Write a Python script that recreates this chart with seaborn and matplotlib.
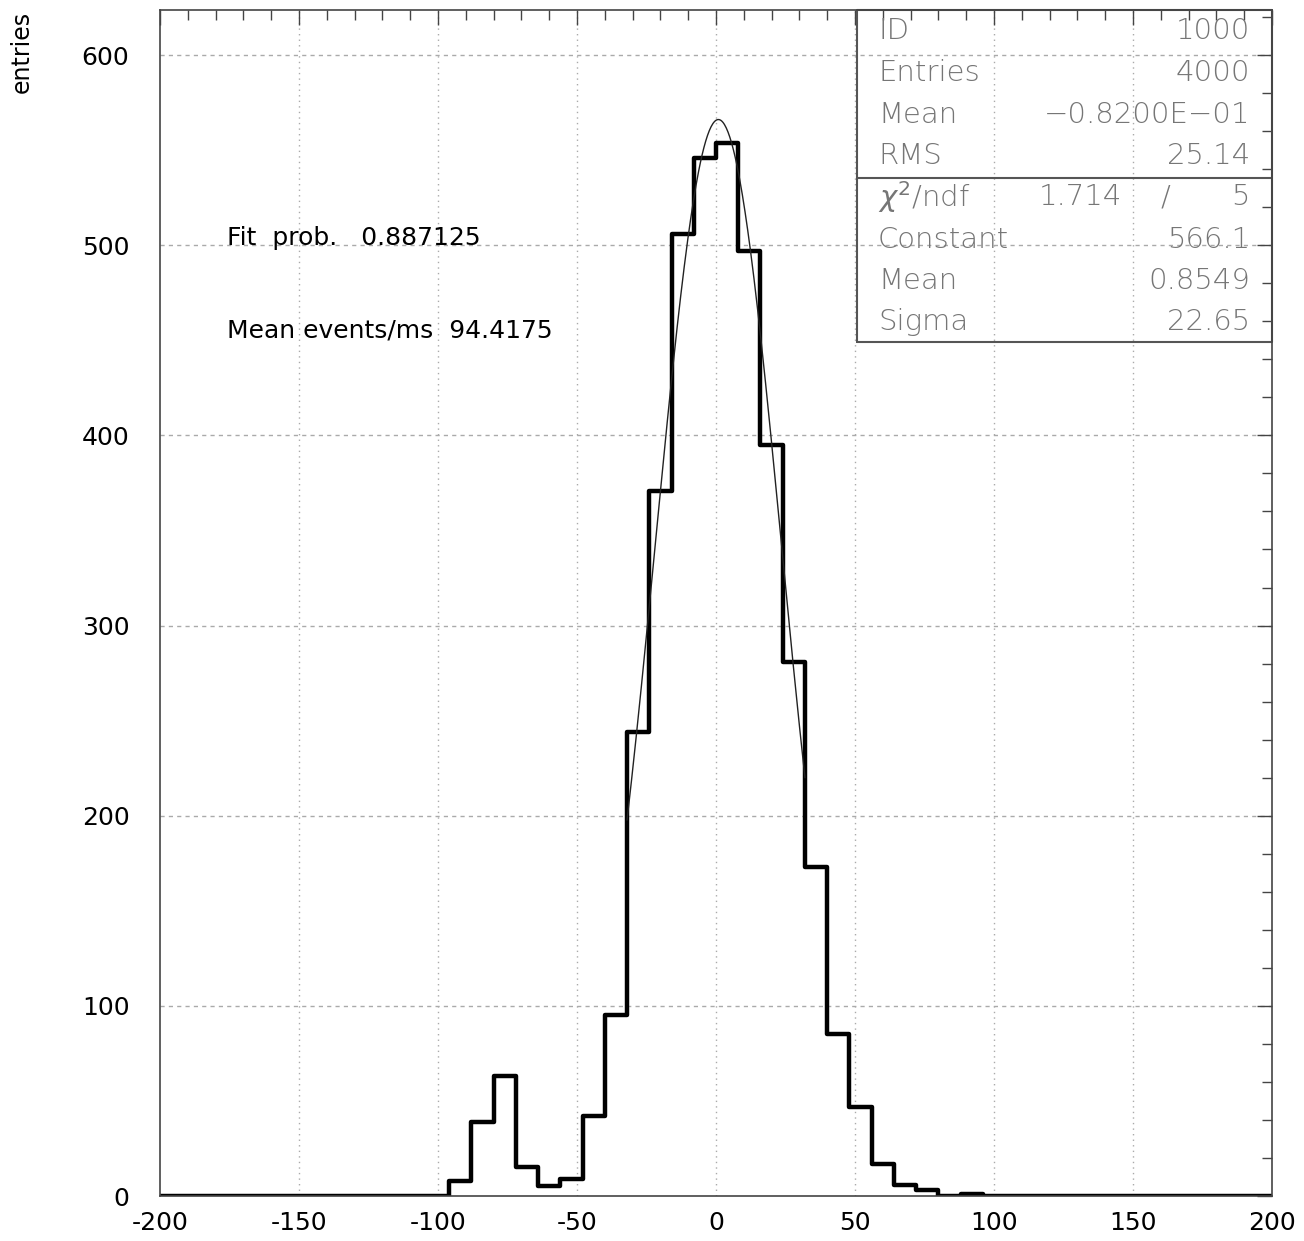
import numpy as np
import pandas as pd
import matplotlib
matplotlib.use("Agg")
import matplotlib.pyplot as plt
from matplotlib.ticker import MultipleLocator
import seaborn as sns

# ---- data ----
bin_edges = list(range(-200, 201, 8))           # 50 bins of width 8
nonzero_start = -96
nonzero_counts = [8, 39, 63, 15, 5, 9, 42, 95, 244, 371, 506, 546, 554,
                  497, 395, 281, 173, 85, 47, 17, 6, 3, 0, 1]

fit_constant = 566.1
fit_mean = 0.8549
fit_sigma = 22.65
fit_range = (-32.0, 32.0)

stat_labels = ["ID", "Entries", "Mean", "RMS"]
stat_values = ["1000", "4000", "\u22120.8200E\u221201", "25.14"]
fit_labels = ["Constant", "Mean", "Sigma"]
fit_values = ["566.1", "0.8549", "22.65"]
chi2_text = ("1.714", "5")

note_lines = ["Fit  prob.   0.887125", "Mean events/ms  94.4175"]

x_ticks = [-200, -150, -100, -50, 0, 50, 100, 150, 200]
y_ticks = [0, 100, 200, 300, 400, 500, 600]

# build full-range counts
centers = [e + 4 for e in bin_edges[:-1]]
counts = [0] * len(centers)
i0 = bin_edges.index(nonzero_start)
for k, c in enumerate(nonzero_counts):
    counts[i0 + k] = c
df = pd.DataFrame({"x": centers, "w": counts})

# ---- figure ----
sns.set_style("white")
plt.rcParams["font.family"] = ["DejaVu Sans"]
plt.rcParams["text.color"] = "black"
plt.rcParams["xtick.color"] = "black"
plt.rcParams["ytick.color"] = "black"
plt.rcParams["xtick.labelcolor"] = "black"
plt.rcParams["ytick.labelcolor"] = "black"

fig = plt.figure(figsize=(13.04, 12.41), dpi=100)
ax = fig.add_axes([160 / 1304, 45 / 1241, 1112 / 1304, 1186 / 1241])

sns.histplot(data=df, x="x", weights="w", bins=bin_edges, element="step",
             fill=False, color="black", linewidth=3.2, ax=ax)

# gaussian fit curve (from stated fit parameters)
xf = np.linspace(fit_range[0], fit_range[1], 200)
yf = fit_constant * np.exp(-0.5 * ((xf - fit_mean) / fit_sigma) ** 2)
sns.lineplot(x=xf, y=yf, color="#222222", linewidth=1.0, ax=ax, sort=False)

ax.set_xlim(-200, 200)
ax.set_ylim(0, 623.7)
ax.set_xlabel("")
ax.set_ylabel("")

ax.set_xticks(x_ticks)
ax.set_xticklabels([str(t) for t in x_ticks])
ax.set_yticks(y_ticks)
ax.set_yticklabels([str(t) for t in y_ticks])
ax.xaxis.set_minor_locator(MultipleLocator(10))
ax.yaxis.set_minor_locator(MultipleLocator(20))
ax.tick_params(axis="both", which="both", direction="in", top=True, right=True,
               color="#444444")
ax.tick_params(axis="both", which="major", length=11, width=1.0, labelsize=18,
               labelcolor="black")
ax.tick_params(axis="both", which="minor", length=7, width=1.0)
ax.tick_params(axis="x", which="major", pad=11)
ax.tick_params(axis="y", which="major", pad=22)

for sp in ax.spines.values():
    sp.set_color("#444444")
    sp.set_linewidth(1.2)

for xv in x_ticks[1:-1]:
    ax.axvline(xv, color="#aaaaaa", linewidth=1.0, linestyle=(0, (1, 3)), zorder=0)
for yv in y_ticks[1:]:
    ax.axhline(yv, color="#aaaaaa", linewidth=1.0, linestyle=(0, (3, 3)), zorder=0)

fig.text(22 / 1304, 1 - 52 / 1241, "entries", rotation=90, ha="center",
         va="center", fontsize=17, color="black")

# annotations
ax.text(-176, 504, note_lines[0], ha="left", va="center", fontsize=18, color="black")
ax.text(-176, 455, note_lines[1], ha="left", va="center", fontsize=18, color="black")

# stats box (axes coords)
bx0, bx1 = (857 - 160) / 1112, 1.0
by0, by1 = (1196 - 342) / 1186, 1.0
bsep = (1196 - 178) / 1186
box_col = "#555555"
ax.plot([bx0, bx1, bx1, bx0, bx0], [by0, by0, by1, by1, by0],
        transform=ax.transAxes, color=box_col, linewidth=1.5, clip_on=False)
ax.plot([bx0, bx1], [bsep, bsep], transform=ax.transAxes, color=box_col,
        linewidth=1.5)

txt_col = "#767676"
fs_box = 21
lab_x = (878 - 160) / 1112
val_x = (1250 - 160) / 1112
row_px = [31, 73, 115, 156, 197, 240, 281, 322]


def ry(px):
    return (1196 - px) / 1186


def box_text(x, px, s, ha):
    ax.text(x, ry(px), s, transform=ax.transAxes, ha=ha, va="center",
            fontsize=fs_box, color=txt_col, fontweight="light")


for lab, val, px in zip(stat_labels, stat_values, row_px[:4]):
    box_text(lab_x, px, lab, "left")
    box_text(val_x, px, val, "right")

box_text(lab_x, row_px[4], r"$\chi^2$/ndf", "left")
box_text((1122 - 160) / 1112, row_px[4], chi2_text[0], "right")
box_text((1165 - 160) / 1112, row_px[4], "/", "center")
box_text(val_x, row_px[4], chi2_text[1], "right")

for lab, val, px in zip(fit_labels, fit_values, row_px[5:]):
    box_text(lab_x, px, lab, "left")
    box_text(val_x, px, val, "right")

fig.savefig("out.png", dpi=100, facecolor="white")
